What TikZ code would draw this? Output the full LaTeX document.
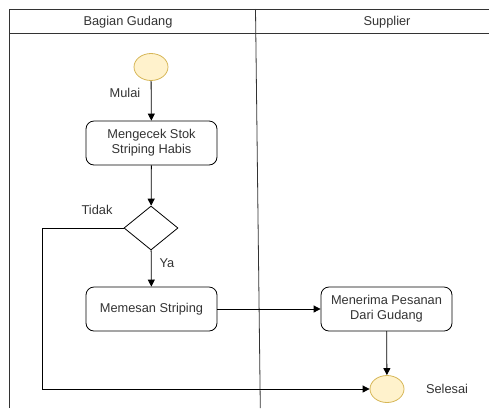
\documentclass[tikz,border=0pt]{standalone}
\usepackage{fontspec}
\setmainfont{Liberation Sans}
\usetikzlibrary{arrows.meta,shapes.geometric}
\definecolor{termfill}{HTML}{FFF2CC}
\definecolor{termline}{HTML}{D6B656}
\definecolor{txt}{HTML}{333333}
\begin{document}
\begin{tikzpicture}[x=1pt,y=-1pt,
  every node/.style={font=\fontsize{12.8}{15}\selectfont, text=txt},
  lane/.style={draw=black!80, line width=0.8pt},
  term/.style={ellipse, draw=termline, fill=termfill, line width=0.8pt, minimum width=34pt, minimum height=27pt, inner sep=0pt},
  actbox/.style={rectangle, rounded corners=8pt, draw=black, line width=0.8pt, minimum width=131pt, minimum height=44pt, align=center, inner sep=0pt},
  decide/.style={diamond, draw=black, line width=0.8pt, minimum width=54pt, minimum height=44pt, inner sep=0pt, aspect=1.227},
  flow/.style={draw=black, line width=0.8pt, -{Triangle[length=7pt,width=7pt]}},
  lbl/.style={inner sep=0pt}
]
\useasboundingbox (0,0) rectangle (489,408);
% swimlanes
\draw[lane] (9,408) -- (9,9) -- (489,9);
\draw[lane] (9,33) -- (489,33);
\coordinate (divtop) at (255.5,9);
\coordinate (divbot) at (260.3,408);
\draw[lane] (divtop) -- (divbot);
\node[lbl] (h1) at (128,22) {Bagian Gudang};
\node[lbl] (h2) at (387,22) {Supplier};
% nodes
\node[term] (start) at (151,67) {};
\node[lbl] (mulai) at (125,93) {Mulai};
\node[actbox] (cek) at (151.5,143) {Mengecek Stok\\Striping Habis};
\node[decide] (dec) at (151,228) {};
\node[lbl] (tidak) at (97,210) {Tidak};
\node[lbl] (ya) at (167,263) {Ya};
\node[actbox] (pesan) at (151.5,309) {Memesan Striping};
\node[actbox] (terima) at (386.5,309) {Menerima Pesanan\\Dari Gudang};
\node[term] (end) at (387,389) {};
\node[lbl] (selesai) at (447,389) {Selesai};
% connectors
\draw[flow] (start) -- (cek);
\draw[flow] (cek) -- (dec);
\draw[flow] (dec) -- (pesan);
\draw[flow] (pesan) -- (terima);
\draw[flow] (terima) -- (end);
\draw[flow] (dec.west) -- (42,228) -- (42,389) -- (end.west);
\end{tikzpicture}
\end{document}
